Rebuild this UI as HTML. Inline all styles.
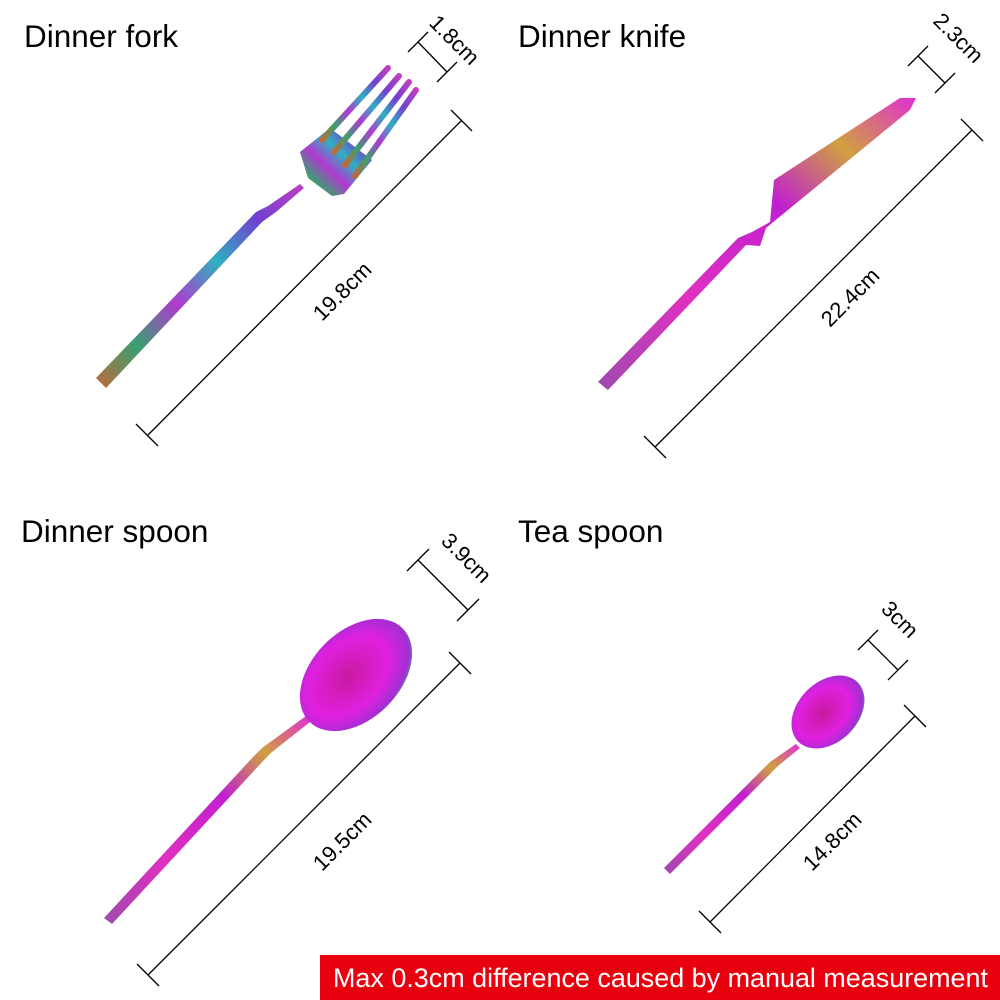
<!DOCTYPE html>
<html><head><meta charset="utf-8"><style>
html,body{margin:0;padding:0;background:#fff;width:1000px;height:1000px;overflow:hidden}
svg{display:block}
text{font-family:"Liberation Sans",Arial,sans-serif}
</style></head><body>
<svg width="1000" height="1000" viewBox="0 0 1000 1000">
<defs>
<linearGradient id="rb" x1="0" y1="1" x2="1" y2="0">
<stop offset="0" stop-color="#c06a3a"/><stop offset="0.2" stop-color="#3aa070"/>
<stop offset="0.4" stop-color="#b03ad0"/><stop offset="0.6" stop-color="#30b0c0"/>
<stop offset="0.8" stop-color="#7040d0"/><stop offset="1" stop-color="#c040c0"/></linearGradient>
<linearGradient id="mg" x1="0" y1="1" x2="1" y2="0">
<stop offset="0" stop-color="#a04ab0"/><stop offset="0.3" stop-color="#e030c0"/>
<stop offset="0.6" stop-color="#c020d0"/><stop offset="0.8" stop-color="#d0a040"/>
<stop offset="1" stop-color="#e030d0"/></linearGradient>
<radialGradient id="bowl" cx="0.45" cy="0.55" r="0.6">
<stop offset="0" stop-color="#c81aa0"/><stop offset="0.6" stop-color="#e020e0"/>
<stop offset="0.9" stop-color="#a030d0"/><stop offset="1" stop-color="#40b0a0"/></radialGradient>
</defs>

<g font-size="31.5" fill="#000">
<text x="24" y="47">Dinner fork</text>
<text x="518" y="47">Dinner knife</text>
<text x="21" y="542">Dinner spoon</text>
<text x="518" y="542">Tea spoon</text>
</g>

<!-- fork -->
<polygon points="96,378 106,388 262,222 276,212 304,188 300,184 268,206 256,212" fill="url(#rb)"/>
<polygon points="300,152 308,178 332,196 344,194 372,160 330,128" fill="url(#rb)"/>
<g stroke="url(#rb)" stroke-width="6" stroke-linecap="round">
<line x1="322" y1="140" x2="388" y2="68"/>
<line x1="334" y1="152" x2="399" y2="76"/>
<line x1="345" y1="165" x2="409" y2="82"/>
<line x1="355" y1="176" x2="416" y2="90"/>
</g>
<!-- knife -->
<polygon points="598,382 608,390 746,245 760,246 766,228 910,110 916,98 900,98 820,150 774,180 770,222 752,232 738,238" fill="url(#mg)"/>
<!-- dinner spoon -->
<polygon points="104,918 112,924 264,760 272,752 310,722 306,716 262,748 254,756" fill="url(#mg)"/>
<ellipse cx="356" cy="675" rx="44" ry="66" transform="rotate(45 356 675)" fill="url(#bowl)"/>
<!-- tea spoon -->
<polygon points="664,868 670,874 772,772 778,766 800,748 796,744 770,762 764,768" fill="url(#mg)"/>
<ellipse cx="828" cy="712" rx="30" ry="42" transform="rotate(45 828 712)" fill="url(#bowl)"/>

<g stroke="#000" stroke-width="1.3" fill="none">
<line x1="148" y1="435" x2="462" y2="120"/>
<line x1="136" y1="424" x2="158" y2="446"/><line x1="451" y1="110" x2="472" y2="131"/>
<line x1="418" y1="42" x2="447" y2="72"/>
<line x1="408" y1="52" x2="428" y2="32"/><line x1="437" y1="82" x2="457" y2="62"/>
<line x1="655" y1="447" x2="972" y2="130"/>
<line x1="644" y1="436" x2="666" y2="458"/><line x1="961" y1="119" x2="983" y2="141"/>
<line x1="918" y1="56" x2="945" y2="83"/>
<line x1="908" y1="66" x2="928" y2="46"/><line x1="935" y1="93" x2="955" y2="73"/>
<line x1="148" y1="975" x2="460" y2="663"/>
<line x1="137" y1="964" x2="159" y2="986"/><line x1="449" y1="652" x2="471" y2="674"/>
<line x1="418" y1="560" x2="468" y2="610"/>
<line x1="407" y1="571" x2="429" y2="549"/><line x1="457" y1="621" x2="479" y2="599"/>
<line x1="710" y1="922" x2="915" y2="716"/>
<line x1="699" y1="911" x2="721" y2="933"/><line x1="904" y1="705" x2="926" y2="727"/>
<line x1="868" y1="640" x2="898" y2="670"/>
<line x1="858" y1="650" x2="878" y2="630"/><line x1="888" y1="680" x2="908" y2="660"/>
</g>

<g font-size="22" fill="#000">
<text transform="translate(322,322) rotate(-45)">19.8cm</text>
<text transform="translate(830,328) rotate(-45)">22.4cm</text>
<text transform="translate(322,872) rotate(-45)">19.5cm</text>
<text transform="translate(812,872) rotate(-45)">14.8cm</text>
<text transform="translate(428,24) rotate(45)">1.8cm</text>
<text transform="translate(932,22) rotate(45)">2.3cm</text>
<text transform="translate(440,542) rotate(45)">3.9cm</text>
<text transform="translate(880,610) rotate(45)">3cm</text>
</g>

<rect x="320" y="955" width="680" height="45" fill="#e8000f"/>
<text x="333" y="987" font-size="27" fill="#fff" textLength="655" lengthAdjust="spacingAndGlyphs">Max 0.3cm difference caused by manual measurement</text>
</svg>
</body></html>
